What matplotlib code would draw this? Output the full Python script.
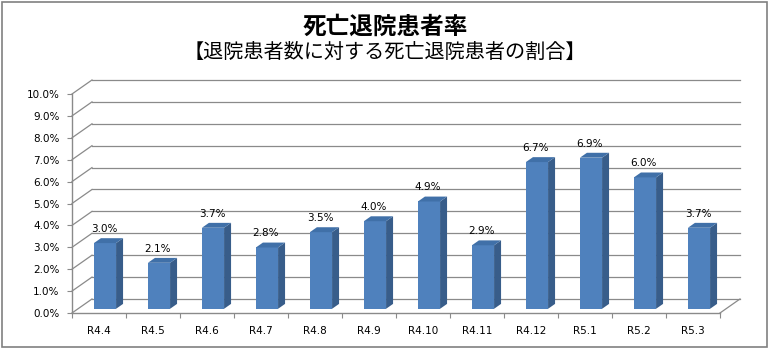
import matplotlib.pyplot as plt
from matplotlib.patches import Polygon, Rectangle

plt.rcParams['font.family'] = ['Noto Sans CJK JP', 'DejaVu Sans']

months = ['R4.4', 'R4.5', 'R4.6', 'R4.7', 'R4.8', 'R4.9',
          'R4.10', 'R4.11', 'R4.12', 'R5.1', 'R5.2', 'R5.3']
rates = [3.0, 2.1, 3.7, 2.8, 3.5, 4.0, 4.9, 2.9, 6.7, 6.9, 6.0, 3.7]

title = '死亡退院患者率'
subtitle = '【退院患者数に対する死亡退院患者の割合】'

# fake 3d depth, in data units (categories / percent)
DX, DY = 0.37, 0.64
F1, F2 = 0.30, 0.65      # front / back depth of the columns
W = 0.41
GRID = '#8a8a8a'
FRONT, SIDE, TOP = '#4F81BD', '#385D8A', '#4070A8'

W_PX, H_PX = 770, 349
fig = plt.figure(figsize=(W_PX / 100, H_PX / 100), dpi=100)
fig.patches.append(Rectangle((1.5 / W_PX, 2 / H_PX), 765 / W_PX, 345 / H_PX,
                             transform=fig.transFigure, fill=False,
                             edgecolor='#808080', linewidth=1.2))

ax = fig.add_axes([72 / W_PX, (H_PX - 313) / H_PX, 648 / W_PX, 219 / H_PX])
ax.set_xlim(0, len(months))
ax.set_ylim(0, 10)
ax.patch.set_alpha(0)

for s in ['top', 'right']:
    ax.spines[s].set_visible(False)
for s in ['left', 'bottom']:
    ax.spines[s].set_color(GRID)
    ax.spines[s].set_linewidth(1)

yt = range(0, 11)
ax.set_yticks(yt)
ax.set_yticklabels([f'{v:.1f}%' for v in yt], family='DejaVu Sans', fontsize=7.5)
ax.tick_params(axis='y', direction='out', length=3.6, color=GRID, pad=5.5)

ax.set_xticks(range(len(months) + 1))
ax.set_xticklabels([])
ax.set_xticks([i + 0.5 for i in range(len(months))], minor=True)
ax.set_xticklabels(months, minor=True, family='DejaVu Sans', fontsize=7.5)
ax.tick_params(axis='x', which='major', direction='out', length=3.6, color=GRID)
ax.tick_params(axis='x', which='minor', length=0, pad=9)

n = len(months)
# back wall gridlines and the left wall diagonals
for v in yt:
    ax.plot([DX, n + DX], [v + DY, v + DY], color=GRID, lw=0.9, clip_on=False)
    ax.plot([0, DX], [v, v + DY], color=GRID, lw=0.9, clip_on=False)
# right edge of the floor
ax.plot([n, n + DX], [0, DY], color=GRID, lw=0.9, clip_on=False)

for i, v in enumerate(rates):
    x0 = i + 0.5 - W / 2
    x1 = x0 + W
    ax.bar(x0 + F1 * DX, v, width=W, bottom=F1 * DY, align='edge',
           color=FRONT, edgecolor='none', clip_on=False, zorder=3)
    side = [(x1 + F1 * DX, F1 * DY), (x1 + F2 * DX, F2 * DY),
            (x1 + F2 * DX, v + F2 * DY), (x1 + F1 * DX, v + F1 * DY)]
    top = [(x0 + F1 * DX, v + F1 * DY), (x1 + F1 * DX, v + F1 * DY),
           (x1 + F2 * DX, v + F2 * DY), (x0 + F2 * DX, v + F2 * DY)]
    ax.add_patch(Polygon(side, closed=True, facecolor=SIDE, edgecolor='none',
                         clip_on=False, zorder=3))
    ax.add_patch(Polygon(top, closed=True, facecolor=TOP, edgecolor='none',
                         clip_on=False, zorder=3))
    ax.annotate(f'{v:.1f}%', (i + 0.5 + F1 * DX - 0.02, v + F2 * DY),
                xytext=(0, 3), textcoords='offset points', ha='center',
                va='bottom', family='DejaVu Sans', fontsize=7.5, zorder=4)

fig.text(0.5, 1 - 27 / H_PX, title, ha='center', va='center',
         fontsize=17, fontweight='bold')
fig.text(0.5, 1 - 52 / H_PX, subtitle, ha='center', va='center', fontsize=14.5)

fig.savefig('out.png', dpi=100)
